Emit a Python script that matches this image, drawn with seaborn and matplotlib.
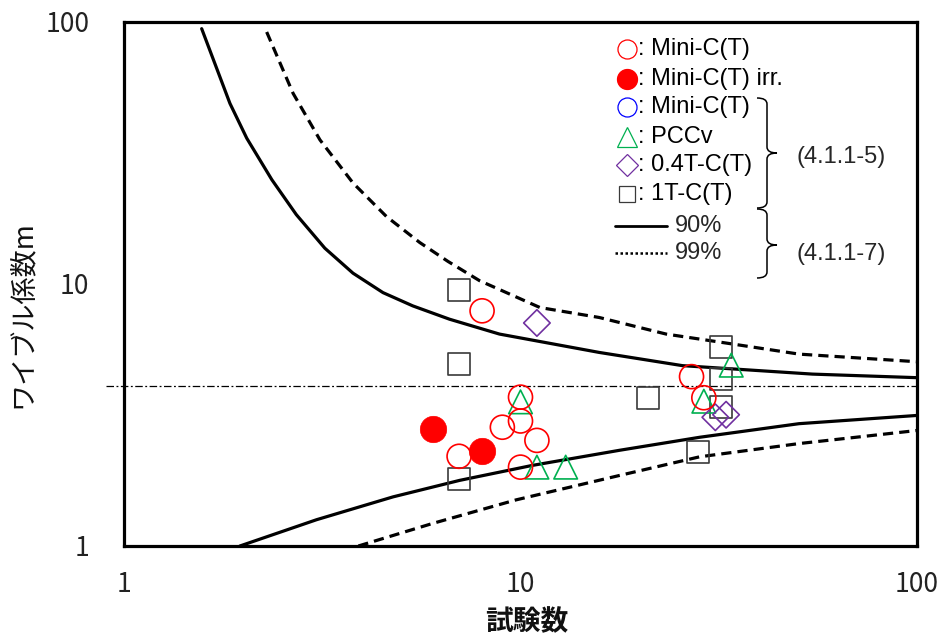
import numpy as np
import pandas as pd
import seaborn as sns
import matplotlib
matplotlib.use("Agg")
import matplotlib.pyplot as plt
from matplotlib.lines import Line2D
from matplotlib.path import Path
from matplotlib.patches import PathPatch
from matplotlib.transforms import Affine2D
from matplotlib.ticker import LogLocator, NullFormatter, FixedLocator, FixedFormatter

# ---------------- data ----------------
# open red circles: Mini-C(T)
minic_n = [8, 10, 9, 10, 11, 7, 10, 27, 29]
minic_m = [7.9, 3.7, 2.84, 3.0, 2.53, 2.2, 2.0, 4.43, 3.68]
# filled red circles: Mini-C(T) irr.
irr_n = [6, 8]
irr_m = [2.8, 2.3]
# green triangles: PCCv
pccv_n = [10, 11, 13, 34, 29]
pccv_m = [3.55, 2.0, 2.0, 4.9, 3.57]
# purple diamonds: 0.4T-C(T)
t04_n = [11, 31, 33]
t04_m = [7.1, 3.1, 3.17]
# black squares: 1T-C(T)
t1_n = [7, 7, 7, 21, 32, 32, 32, 28]
t1_m = [9.5, 4.95, 1.8, 3.68, 5.76, 4.33, 3.4, 2.28]

# confidence bounds (90% solid, 99% dashed)
up90_n = [1.57, 1.85, 2.04, 2.36, 2.72, 3.21, 3.78, 4.5, 5.35, 6.62, 8.85, 15.8, 25.6, 54.5, 100]
up90_m = [94.3, 48.9, 36.0, 25.0, 18.4, 13.7, 11.0, 9.27, 8.25, 7.34, 6.44, 5.48, 4.88, 4.53, 4.39]
up99_n = [2.29, 2.67, 3.12, 3.78, 4.59, 5.57, 6.56, 7.88, 11.2, 15.8, 23.3, 34.3, 50.4, 100]
up99_m = [91.6, 53.4, 35.5, 24.3, 18.1, 14.4, 12.2, 10.3, 8.13, 7.45, 6.44, 5.90, 5.40, 5.05]
lo90_n = [1.96, 3.06, 4.77, 7.02, 10.7, 17.8, 28.3, 50.4, 100]
lo90_m = [1.0, 1.26, 1.54, 1.78, 2.03, 2.32, 2.60, 2.93, 3.15]
lo99_n = [3.9, 6.01, 9.75, 17.8, 28.3, 50.4, 100]
lo99_m = [1.0, 1.22, 1.50, 1.86, 2.19, 2.46, 2.76]

ref_m = 4.07
ref_n = [0.9, 100]

tick_vals = [1, 10, 100]
tick_labels = ["1", "10", "100"]

# ---------------- style ----------------
sns.set_style("white")
plt.rcParams["font.family"] = ["Noto Sans CJK JP", "DejaVu Sans"]

W, H = 942, 641
fig = plt.figure(figsize=(W / 100, H / 100), dpi=100)
ax = fig.add_axes([124 / W, 1 - 546 / H, (917 - 124) / W, (546 - 22) / H])
ax.set_xscale("log")
ax.set_yscale("log")
ax.set_xlim(1, 100)
ax.set_ylim(1, 100)

lw = 2.3
sns.lineplot(x=up90_n, y=up90_m, color="black", lw=lw, sort=False, ax=ax, errorbar=None)
sns.lineplot(x=lo90_n, y=lo90_m, color="black", lw=lw, sort=False, ax=ax, errorbar=None)
sns.lineplot(x=up99_n, y=up99_m, color="black", lw=lw, sort=False, ax=ax, errorbar=None,
             linestyle=(0, (3.2, 1.9)))
sns.lineplot(x=lo99_n, y=lo99_m, color="black", lw=lw, sort=False, ax=ax, errorbar=None,
             linestyle=(0, (3.2, 1.9)))
ax.plot(ref_n, [ref_m, ref_m], color="black", lw=0.9, linestyle=(0, (6, 2, 1.5, 2)),
        clip_on=False)

def scat(xv, yv, marker, size, ec, fc="none", lwm=1.2):
    sns.scatterplot(x=xv, y=yv, marker=marker, s=size ** 2, edgecolor=ec, facecolor=fc,
                    linewidth=lwm, ax=ax, zorder=5, legend=False)

scat(t1_n, t1_m, "s", 15.6, "#3a3a3a")
scat(pccv_n, pccv_m, "^", 17.0, "#00B050")
scat(t04_n, t04_m, "D", 13.5, "#7030A0")
scat(minic_n, minic_m, "o", 17.3, "#FF0000")
scat(irr_n, irr_m, "o", 19.0, "#FF0000", fc="#FF0000", lwm=0.5)

# ticks / spines
ax.xaxis.set_major_locator(FixedLocator(tick_vals))
ax.xaxis.set_major_formatter(FixedFormatter(tick_labels))
ax.yaxis.set_major_locator(FixedLocator(tick_vals))
ax.yaxis.set_major_formatter(FixedFormatter(tick_labels))
for a in (ax.xaxis, ax.yaxis):
    a.set_minor_locator(LogLocator(base=10, subs=np.arange(2, 10)))
    a.set_minor_formatter(NullFormatter())
ax.tick_params(axis="both", which="major", direction="in", length=7, width=0.9,
               labelsize=19, colors="black", labelcolor="#222222")
ax.tick_params(axis="both", which="minor", direction="in", length=5, width=0.9)
ax.tick_params(axis="x", which="major", pad=18)
ax.tick_params(axis="y", which="major", pad=25)
ax.tick_params(top=False, right=False, which="both")
for s in ax.spines.values():
    s.set_linewidth(2.3)
    s.set_color("black")
    s.set_visible(True)

fig.text(527 / W, 1 - 622 / H, "試験数", ha="center", va="center", fontsize=20,
         fontweight="bold", color="#111111")
fig.text(22 / W, 1 - 314 / H, "ワイブル係数m", ha="center", va="center", fontsize=19.5,
         rotation=90, color="#111111")

# ---------------- legend (drawn in pixel coords) ----------------
px = Affine2D().scale(1 / W, -1 / H).translate(0, 1) + fig.transFigure
leg_font = ["Liberation Sans", "DejaVu Sans"]
lfs = 17
rows = [
    (49, "o", 13.7, "#FF0000", "none", ": Mini-C(T)"),
    (79, "o", 14.4, "#FF0000", "#FF0000", ": Mini-C(T) irr."),
    (107, "o", 13.7, "#0000FF", "none", ": Mini-C(T)"),
    (137, "^", 14.4, "#00B050", "none", ": PCCv"),
    (165, "D", 11.0, "#7030A0", "none", ": 0.4T-C(T)"),
    (194, "s", 12.0, "#3a3a3a", "none", ": 1T-C(T)"),
]
for y, mk, ms, ec, fc, lab in rows:
    fig.add_artist(Line2D([626.5], [y], marker=mk, markersize=ms, markeredgecolor=ec,
                          markerfacecolor=fc, markeredgewidth=0.9, linestyle="none",
                          transform=px))
    fig.text(638 / W, 1 - y / H, lab, ha="left", va="center", fontsize=lfs,
             family=leg_font, color="black")
fig.add_artist(Line2D([615, 667], [226, 226], color="black", lw=2.0, transform=px))
fig.text(675 / W, 1 - 226 / H, "90%", ha="left", va="center", fontsize=lfs,
         family=leg_font)
fig.add_artist(Line2D([615, 667], [253, 253], color="black", lw=1.8,
                      linestyle=(0, (1, 1)), transform=px))
fig.text(675 / W, 1 - 253 / H, "99%", ha="left", va="center", fontsize=lfs,
         family=leg_font)


def brace(ytop, ybot, ytip, xl=757, xv=767, xt=777, r=6):
    verts = [(xl, ytop), (xv, ytop), (xv, ytop + r),
             (xv, ytip - r),
             (xv, ytip), (xt, ytip),
             (xv, ytip), (xv, ytip + r),
             (xv, ybot - r),
             (xv, ybot), (xl, ybot)]
    codes = [Path.MOVETO, Path.CURVE3, Path.CURVE3,
             Path.LINETO,
             Path.CURVE3, Path.CURVE3,
             Path.CURVE3, Path.CURVE3,
             Path.LINETO,
             Path.CURVE3, Path.CURVE3]
    fig.add_artist(PathPatch(Path(verts, codes), fc="none", ec="black", lw=1.1,
                             transform=px))


brace(98, 208, 153)
brace(209, 278, 245)
fig.text(797 / W, 1 - 157 / H, "(4.1.1-5)", ha="left", va="center", fontsize=lfs,
         family=leg_font)
fig.text(797 / W, 1 - 254 / H, "(4.1.1-7)", ha="left", va="center", fontsize=lfs,
         family=leg_font)

fig.savefig("out.png", dpi=100)
